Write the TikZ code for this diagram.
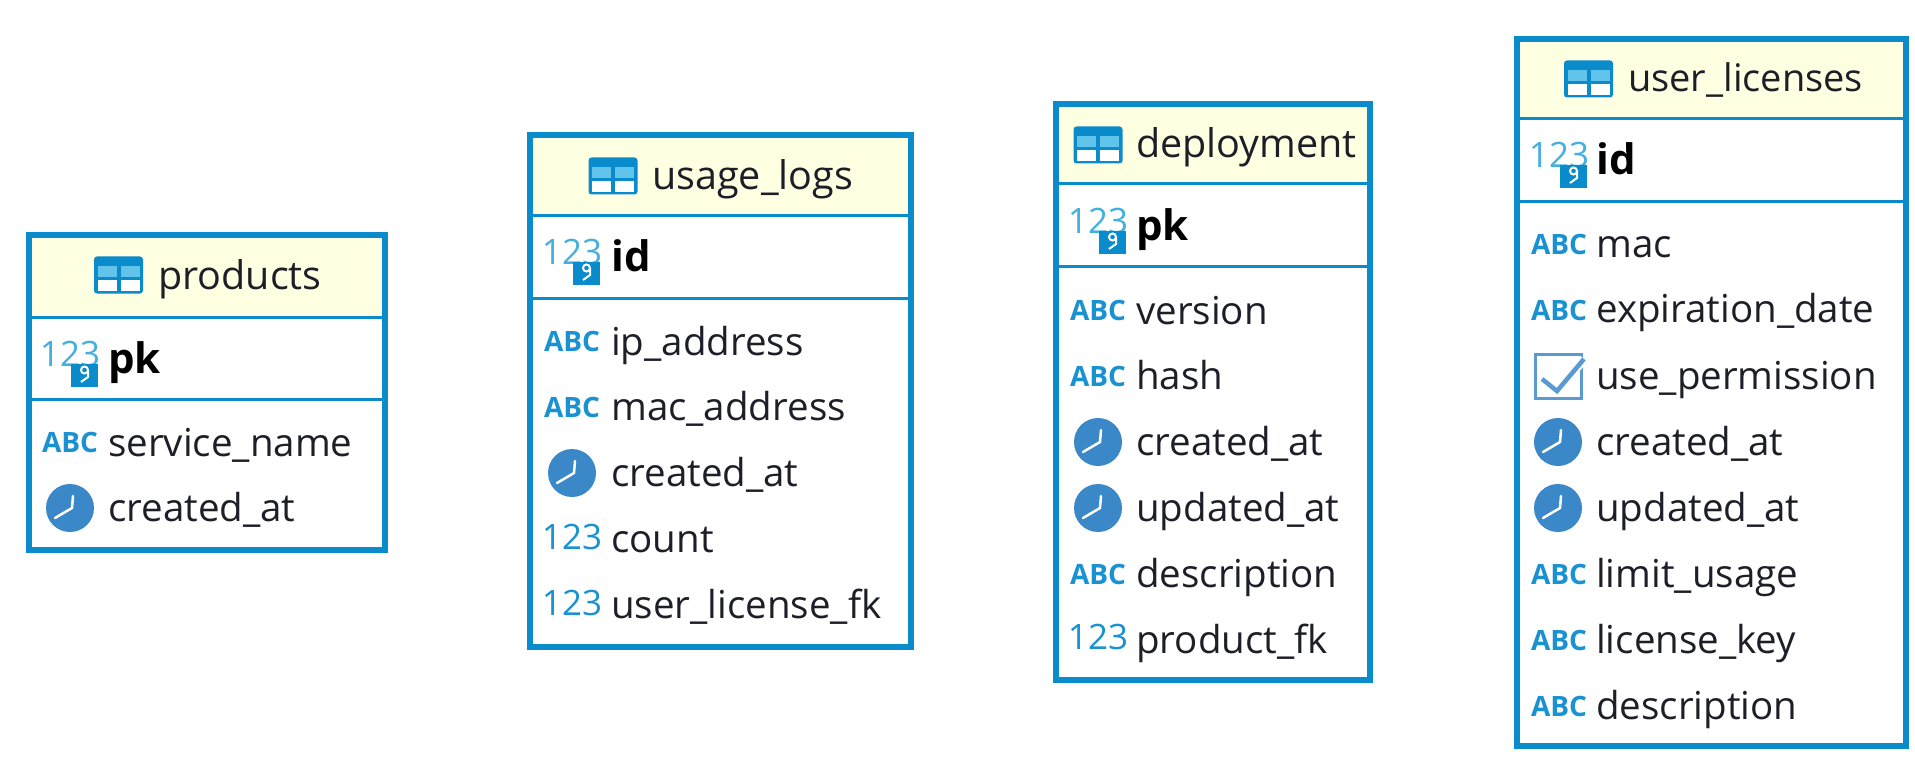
\documentclass[tikz,border=0pt]{standalone}
\usepackage{fontspec}
\setmainfont{Open Sans}
\usepackage{xcolor}
\usetikzlibrary{positioning}
\definecolor{tableblue}{HTML}{0A8BCB}
\definecolor{iconblue}{HTML}{1A92D2}
\definecolor{lightblue}{HTML}{62C4EA}
\definecolor{clockblue}{HTML}{3A88C8}
\definecolor{checkblue}{HTML}{5A9AD2}
\definecolor{headyellow}{HTML}{FFFFE1}
\definecolor{textgray}{HTML}{1E1E28}
\tikzset{
  tablebox/.style={draw=tableblue,line width=6pt,inner sep=0pt,outer sep=0pt,anchor=north west},
  rowline/.style={draw=tableblue,line width=3pt},
  tabletitle/.style={font=\fontsize{39.5}{42}\selectfont,text=textgray,anchor=base west,inner sep=0pt},
  colname/.style={font=\fontsize{38.5}{42}\selectfont,text=textgray,anchor=base west,inner sep=0pt},
  keyname/.style={font=\fontsize{42}{44}\selectfont\bfseries,text=black,anchor=base west,inner sep=0pt},
  iconabc/.pic={
    \node[font=\fontsize{28}{29}\selectfont\bfseries,text=iconblue,inner sep=0pt] (txt) at (0,0) {ABC};
  },
  iconnum/.pic={
    \node[font=\fontsize{35}{35}\selectfont,text=iconblue,inner sep=0pt] (txt) at (0,0) {123};
  },
  iconkey/.pic={
    \node[font=\fontsize{35}{35}\selectfont,text=lightblue!60!iconblue,inner sep=0pt] (txt) at (0,-6) {123};
    \fill[tableblue] (1,4) rectangle (28,27);
    \draw[tableblue,line width=2.5pt] (7,4) arc (180:0:7.5);
    \draw[white,line width=2pt] (14.5,10) circle (3.5);
    \draw[white,line width=2pt] (18,10) -- (18,17) -- (11,22);
  },
  iconclock/.pic={
    \fill[clockblue] (0,0) circle (24);
    \draw[white,line width=2.5pt,line cap=round,line join=round] (3,-12) -- (2,0) -- (-15,10);
  },
  iconcheck/.pic={
    \draw[checkblue,line width=3pt] (-23,-22) rectangle (23,22);
    \draw[white,line width=9pt] (-16,3) -- (-1,15) -- (26,-17);
    \draw[checkblue,line width=4.5pt] (-16,3) -- (-1,15) -- (26,-17);
  },
  icontable/.pic={
    \fill[tableblue,rounded corners=3pt] (-24.5,-18.5) rectangle (24.5,18.5);
    \fill[lightblue] (-21,-9) rectangle (-2,2);
    \fill[lightblue] (2,-9) rectangle (21,2);
    \fill[white] (-21,5) rectangle (-2,16);
    \fill[white] (2,5) rectangle (21,16);
  },
}
\begin{document}
\begin{tikzpicture}[x=1pt,y=-1pt]
  \useasboundingbox (0,0) rectangle (1915,762);
  % products
  \fill[headyellow] (29,235) rectangle (385,317);
  \draw[rowline] (29,317) -- (385,317);
  \draw[rowline] (29,399) -- (385,399);
  \node[tablebox,minimum width=356pt,minimum height=315pt] (products) at (29,235) {};
  \pic (prodtitleicon) at (118.5,275) {icontable};
  \node[tabletitle] (prodtitle) at (158,290) {products};
  \pic (prodkeyicon) at (70,360) {iconkey};
  \node[keyname] (prodkey) at (108,373) {pk};
  \pic (prodnameicon) at (70,442) {iconabc};
  \node[colname] (prodname) at (108,456) {service\_name};
  \pic (prodtimeicon) at (70,508) {iconclock};
  \node[colname] (prodtime) at (108,521) {created\_at};

  % usage_logs
  \fill[headyellow] (530,135) rectangle (911,216);
  \draw[rowline] (530,216) -- (911,216);
  \draw[rowline] (530,298) -- (911,298);
  \node[tablebox,minimum width=381pt,minimum height=512pt] (usage) at (530,135) {};
  \pic (usagetitleicon) at (613,176) {icontable};
  \node[tabletitle] (usagetitle) at (652,190) {usage\_logs};
  \pic (usagekeyicon) at (572,258) {iconkey};
  \node[keyname] (usagekey) at (611,272) {id};
  \pic (usageipicon) at (572,341) {iconabc};
  \node[colname] (usageip) at (611,355) {ip\_address};
  \pic (usagemacicon) at (572,407) {iconabc};
  \node[colname] (usagemac) at (611,420) {mac\_address};
  \pic (usagetimeicon) at (572,473) {iconclock};
  \node[colname] (usagetime) at (611,486) {created\_at};
  \pic (usagecounticon) at (572,537) {iconnum};
  \node[colname] (usagecount) at (611,552) {count};
  \pic (usagefkicon) at (572,603) {iconnum};
  \node[colname] (usagefk) at (611,618) {user\_license\_fk};

  % deployment
  \fill[headyellow] (1056,104) rectangle (1370,184);
  \draw[rowline] (1056,184) -- (1370,184);
  \draw[rowline] (1056,267) -- (1370,267);
  \node[tablebox,minimum width=314pt,minimum height=576pt] (deploy) at (1056,104) {};
  \pic (deploytitleicon) at (1098,145) {icontable};
  \node[tabletitle] (deploytitle) at (1136,158) {deployment};
  \pic (deploykeyicon) at (1098,227) {iconkey};
  \node[keyname] (deploykey) at (1136,241) {pk};
  \pic (deployvericon) at (1098,310) {iconabc};
  \node[colname] (deployver) at (1136,324) {version};
  \pic (deployhashicon) at (1098,376) {iconabc};
  \node[colname] (deployhash) at (1136,389) {hash};
  \pic (deploytimeicon) at (1098,442) {iconclock};
  \node[colname] (deploytime) at (1136,455) {created\_at};
  \pic (deployupicon) at (1098,508) {iconclock};
  \node[colname] (deployup) at (1136,521) {updated\_at};
  \pic (deploydescicon) at (1098,574) {iconabc};
  \node[colname] (deploydesc) at (1136,587) {description};
  \pic (deployfkicon) at (1098,637) {iconnum};
  \node[colname] (deployfk) at (1136,653) {product\_fk};

  % user_licenses
  \fill[headyellow] (1517,39) rectangle (1906,119);
  \draw[rowline] (1517,119) -- (1906,119);
  \draw[rowline] (1517,202) -- (1906,202);
  \node[tablebox,minimum width=389pt,minimum height=707pt] (licenses) at (1517,39) {};
  \pic (lictitleicon) at (1588.5,79) {icontable};
  \node[tabletitle,font=\fontsize{38}{42}\selectfont] (lictitle) at (1628,92) {user\_licenses};
  \pic (lickeyicon) at (1559,161) {iconkey};
  \node[keyname] (lickey) at (1596,175) {id};
  \pic (licmacicon) at (1559,244) {iconabc};
  \node[colname] (licmac) at (1596,258) {mac};
  \pic (licdateicon) at (1559,310) {iconabc};
  \node[colname] (licdate) at (1596,323) {expiration\_date};
  \pic at (1558,376) {iconcheck};
  \node[colname] (licperm) at (1596,389) {use\_permission};
  \pic (lictimeicon) at (1558,442) {iconclock};
  \node[colname] (lictime) at (1596,455) {created\_at};
  \pic (licupicon) at (1558,508) {iconclock};
  \node[colname] (licup) at (1596,521) {updated\_at};
  \pic (liclimiticon) at (1559,574) {iconabc};
  \node[colname] (liclimit) at (1596,587) {limit\_usage};
  \pic (licnoteicon) at (1559,640) {iconabc};
  \node[colname] (lickeyname) at (1596,653) {license\_key};
  \pic (licdescicon) at (1559,706) {iconabc};
  \node[colname] (licdesc) at (1596,719) {description};
\end{tikzpicture}
\end{document}
